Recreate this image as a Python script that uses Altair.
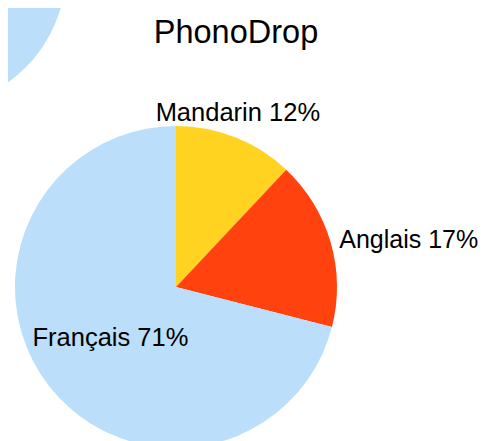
import altair as alt
import pandas as pd

categories = ["Mandarin", "Anglais", "Français"]
values = [12, 17, 71]
colors = ["#FFD320", "#FF420E", "#BBDEFB"]
title_text = "PhonoDrop"

df = pd.DataFrame({
    "category": categories,
    "value": values,
    "idx": list(range(len(categories))),
})
df["label"] = [f"{c} {v}%" for c, v in zip(categories, values)]

W, H = 474, 433
CX, CY, R = 168, 279, 161
FONT = "Liberation Sans"

base = alt.Chart(df)

pie = base.mark_arc(outerRadius=R).encode(
    theta=alt.Theta("value:Q", stack=True),
    color=alt.Color("category:N", scale=alt.Scale(domain=categories, range=colors), legend=None),
    order=alt.Order("idx:Q"),
    x=alt.value(CX),
    y=alt.value(CY),
)

decor = alt.Chart(pd.DataFrame({"d": [0]})).mark_arc(
    theta=0, theta2=6.2832, outerRadius=138, color=colors[2]
).encode(x=alt.value(-80), y=alt.value(-38))

lab_base = base.transform_window(
    cum="sum(value)", sort=[alt.SortField("idx")], frame=[None, 0]
).transform_calculate(mid="datum.cum - datum.value / 2")

theta_mid = alt.Theta("mid:Q", scale=alt.Scale(domain=[0, 100], range=[0, 6.283185]), stack=False)

def label(cat, radius, align, baseline, dy=0, size=25.5):
    return lab_base.transform_filter(alt.datum.category == cat).mark_text(
        radius=radius, align=align, baseline=baseline, dy=dy,
        fontSize=size, font=FONT, color="#000000"
    ).encode(theta=theta_mid, text="label:N", x=alt.value(CX), y=alt.value(CY))

l1 = label("Mandarin", 168, "center", "alphabetic", -10)
l2 = label("Anglais", 170, "left", "middle", 0, 25)
l3 = label("Français", 83, "center", "middle")

title = alt.Chart(pd.DataFrame({"t": [title_text]})).mark_text(
    fontSize=32.5, font=FONT, align="center", baseline="alphabetic", color="#000000"
).encode(text="t:N", x=alt.value(228), y=alt.value(35))

chart = alt.layer(decor, pie, l1, l2, l3, title).resolve_scale(theta="independent").properties(
    width=W, height=H, autosize=alt.AutoSizeParams(type="none"), padding=0
).configure_view(stroke=None)

chart.save("out.html", embed_options={"renderer": "svg", "actions": False})
